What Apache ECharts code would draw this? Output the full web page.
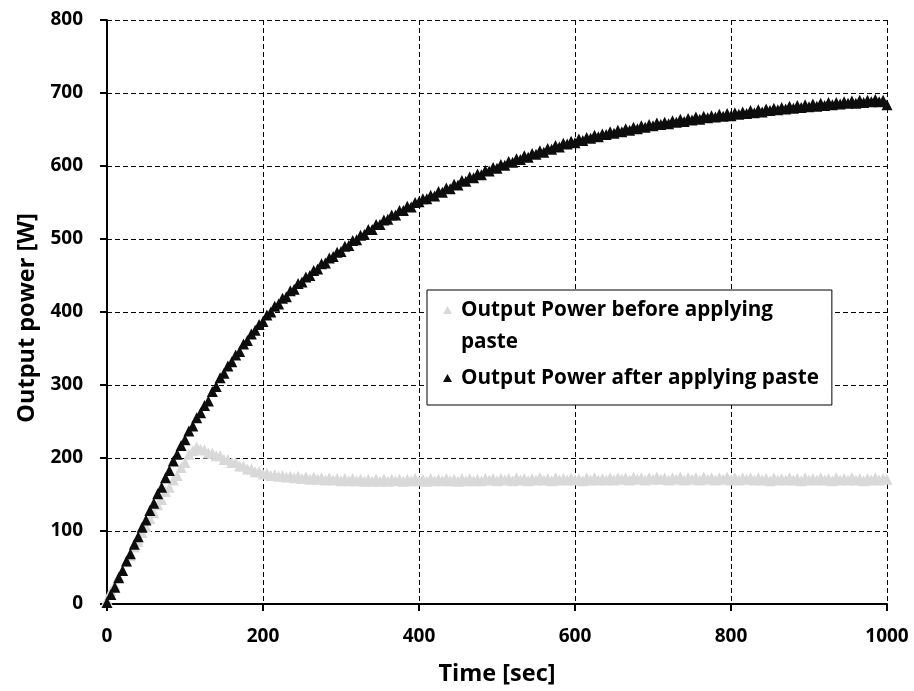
<!DOCTYPE html>
<html>
<head>
<meta charset="utf-8">
<script src="https://cdn.jsdelivr.net/npm/echarts@6/dist/echarts.min.js"></script>
<style>
html,body{margin:0;padding:0;background:#fff;}
#chart{width:914px;height:691px;}
</style>
</head>
<body>
<div id="chart"></div>
<script>
// ---- data ----
const timeSec = [
0,5,10,15,20,25,30,35,40,45,
50,55,60,65,70,75,80,85,90,95,
100,105,110,115,120,125,130,135,140,145,
150,155,160,165,170,175,180,185,190,195,
200,205,210,215,220,225,230,235,240,245,
250,255,260,265,270,275,280,285,290,295,
300,305,310,315,320,325,330,335,340,345,
350,355,360,365,370,375,380,385,390,395,
400,405,410,415,420,425,430,435,440,445,
450,455,460,465,470,475,480,485,490,495,
500,505,510,515,520,525,530,535,540,545,
550,555,560,565,570,575,580,585,590,595,
600,605,610,615,620,625,630,635,640,645,
650,655,660,665,670,675,680,685,690,695,
700,705,710,715,720,725,730,735,740,745,
750,755,760,765,770,775,780,785,790,795,
800,805,810,815,820,825,830,835,840,845,
850,855,860,865,870,875,880,885,890,895,
900,905,910,915,920,925,930,935,940,945,
950,955,960,965,970,975,980,985,990,995,
1000
];
const powerBefore = [
6,18,26,38,46,58,66,78,86,98,
106,117,125,136,143,154,160,170,176,187,
194,205,210,215,212,211,207,207,203,203,
198,198,194,194,189,189,185,185,181,181,
178,179,176,177,175,176,174,175,173,175,
172,174,171,174,171,173,170,173,170,172,
169,172,169,172,169,171,168,171,168,171,
168,171,168,171,169,171,168,171,169,172,
169,171,168,172,169,171,169,172,169,171,
168,172,169,172,169,171,169,172,170,172,
169,172,170,172,169,173,170,172,169,172,
170,173,170,172,169,173,170,172,170,173,
170,172,169,173,170,173,170,172,170,173,
170,173,171,173,170,174,171,173,170,173,
171,174,171,173,170,173,171,174,170,173,
171,173,170,174,171,173,170,173,171,174,
170,173,170,173,171,173,170,173,170,172,
169,173,170,172,170,173,170,172,169,173,
170,172,170,173,170,172,169,173,170,172,
170,173,170,172,169,172,170,173,170,172,
171
];
const powerAfter = [
2,13,23,36,46,59,69,82,92,105,
115,128,138,151,160,173,183,196,205,217,
225,237,244,255,262,272,278,291,298,310,
316,326,332,341,346,356,361,370,375,383,
387,396,400,408,411,419,421,429,431,439,
441,448,450,457,459,466,467,474,476,482,
483,490,491,498,499,505,506,513,513,520,
520,526,527,533,533,539,539,545,544,550,
551,555,555,560,559,565,564,570,569,575,
574,580,579,585,584,589,588,594,593,598,
597,602,601,606,605,610,609,614,612,617,
616,621,619,624,623,628,626,631,630,634,
632,637,635,639,638,642,640,644,643,647,
645,649,647,651,649,653,651,655,653,657,
655,659,657,660,658,662,660,664,661,665,
663,667,664,668,666,669,667,671,668,672,
669,673,671,674,672,676,673,677,674,678,
676,679,677,680,678,682,679,683,680,684,
681,685,682,686,683,687,684,687,685,688,
686,689,686,690,687,690,688,691,688,690,
684
];
const xTicks = [0, 200, 400, 600, 800, 1000];
const yTicks = [0, 100, 200, 300, 400, 500, 600, 700, 800];
const nameBefore = 'Output Power before applying paste';
const nameAfter = 'Output Power after applying paste';
const legendBeforeLines = ['Output Power before applying', 'paste'];
const xTitle = 'Time [sec]';
const yTitle = 'Output power [W]';

// ---- chart ----
const FONT = 'Open Sans';
const chart = echarts.init(document.getElementById('chart'), null, {renderer: 'canvas'});
const axisCommon = {
  axisLine: {show: true, onZero: false, lineStyle: {color: '#000', width: 2}},
  axisTick: {show: true, inside: false, length: 7, lineStyle: {color: '#000', width: 2}},
  splitLine: {show: true, lineStyle: {color: '#000', width: 1, type: [5, 3]}}
};
chart.setOption({
  animation: false,
  backgroundColor: '#fff',
  grid: {left: 107, right: 27, top: 20, bottom: 87, containLabel: false},
  xAxis: Object.assign({}, axisCommon, {
    type: 'value',
    min: xTicks[0], max: xTicks[xTicks.length - 1], interval: xTicks[1] - xTicks[0],
    name: xTitle, nameLocation: 'middle', nameGap: 58,
    nameTextStyle: {fontFamily: FONT, fontWeight: 'bold', fontSize: 23.5, color: '#000'},
    axisLabel: {fontFamily: FONT, fontWeight: 'bold', fontSize: 19, color: '#000', margin: 23,
      formatter: function (v) { return String(v); }}
  }),
  yAxis: Object.assign({}, axisCommon, {
    type: 'value',
    min: yTicks[0], max: yTicks[yTicks.length - 1], interval: yTicks[1] - yTicks[0],
    name: yTitle, nameLocation: 'middle', nameGap: 66,
    nameTextStyle: {fontFamily: FONT, fontWeight: 'bold', fontSize: 23.5, color: '#000', padding: [0, 12, 0, 0]},
    axisLabel: {fontFamily: FONT, fontWeight: 'bold', fontSize: 19, color: '#000', margin: 24,
      formatter: function (v) { return String(v); }}
  }),
  legend: {
    orient: 'vertical',
    left: 427, top: 290,
    padding: [-28, 13, 11, 16],
    itemWidth: 9, itemHeight: 8, itemGap: 4,
    borderColor: '#000', borderWidth: 1, backgroundColor: '#fff',
    selectedMode: false,
    textStyle: {fontFamily: FONT, fontWeight: 'bold', fontSize: 20.7, color: '#000', lineHeight: 32, padding: [0, 0, 0, 4]},
    data: [
      {name: nameBefore, icon: 'triangle'},
      {name: nameAfter, icon: 'triangle'}
    ],
    formatter: function (n) {
      // leading empty line keeps the marker aligned with the first text line
      return n === nameBefore ? '\n' + legendBeforeLines.join('\n') : n;
    }
  },
  series: [
    {
      name: nameBefore, type: 'scatter', symbol: 'triangle', symbolSize: 11,
      itemStyle: {color: '#d9d9d9', opacity: 1},
      data: timeSec.map((t, i) => [t, powerBefore[i]])
    },
    {
      name: nameAfter, type: 'scatter', symbol: 'triangle', symbolSize: 11,
      itemStyle: {color: '#0d0d0d', opacity: 1},
      data: timeSec.map((t, i) => [t, powerAfter[i]])
    }
  ]
});
</script>
</body>
</html>
